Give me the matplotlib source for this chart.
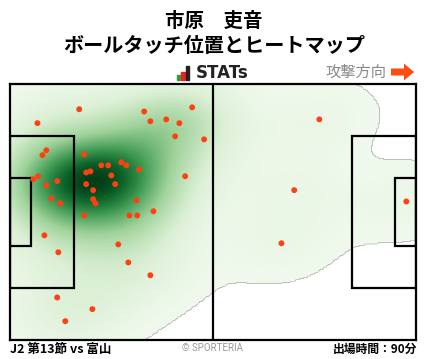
import numpy as np
import matplotlib
matplotlib.use("Agg")
import matplotlib.pyplot as plt
from matplotlib.colors import LinearSegmentedColormap
from matplotlib.patches import Rectangle, FancyArrow

plt.rcParams["font.family"] = ["Noto Sans CJK JP", "DejaVu Sans"]

player = "市原　吏音"
subtitle = "ボールタッチ位置とヒートマップ"
match_label = "J2 第13節 vs 富山"
minutes_label = "出場時間：90分"

# ball touch positions in metres (pitch 105 x 68, attacking to the right)
touch_x = [17.9, 7.1, 34.7, 47.1, 36.3, 40.4, 43.8, 42.7, 50.2, 9.4,
           8.4, 19.2, 28.8, 30.1, 23.6, 25.4, 33.4, 19.7, 20.8, 26.2,
           45.3, 6.0, 7.3, 12.2, 9.4, 19.7, 27.2, 21.5, 10.7, 13.0,
           21.5, 22.1, 32.7, 37.1, 19.2, 30.9, 32.9, 8.9, 12.5, 28.0,
           30.6, 36.3, 12.2, 21.3, 14.3, 80.0, 73.5, 70.2, 102.5]
touch_y = [61.3, 57.6, 60.7, 61.8, 58.1, 58.6, 57.6, 54.1, 53.3, 50.4,
           49.1, 49.3, 47.2, 46.4, 46.4, 46.4, 45.3, 44.5, 44.8, 43.7,
           43.5, 42.7, 43.5, 42.2, 41.1, 41.4, 41.4, 39.8, 37.6, 36.3,
           37.4, 36.3, 37.1, 34.2, 33.1, 33.1, 33.1, 27.8, 23.3, 25.4,
           20.6, 17.2, 11.3, 8.2, 5.0, 58.6, 39.8, 25.7, 36.8]

tx = np.array(touch_x)
ty = np.array(touch_y)

fig = plt.figure(figsize=(4.28, 3.59), dpi=100)

# header / footer layer in pixel coordinates
bg = fig.add_axes([0, 0, 1, 1])
bg.set_xlim(0, 428)
bg.set_ylim(359, 0)
bg.axis("off")

bg.text(214, 21, player, ha="center", va="center", fontsize=14, fontweight="bold")
bg.text(214, 46, subtitle, ha="center", va="center", fontsize=14.5, fontweight="bold")

# STATs logo
bg.add_patch(Rectangle((177, 75), 3.5, 5, color="#2e9e3a"))
bg.add_patch(Rectangle((181.5, 72), 3.5, 8, color="#e8231d"))
bg.add_patch(Rectangle((186, 66), 3.5, 14, color="#222222"))
bg.text(196, 73.5, "STATs", ha="left", va="center", fontsize=12,
        fontweight="bold", family="DejaVu Sans", color="#222222")

bg.text(386, 72, "攻撃方向", ha="right", va="center", fontsize=11, color="#888888")
bg.add_patch(FancyArrow(391, 72, 23, 0, width=7, head_width=17, head_length=10,
                        length_includes_head=True, color="#ff4d12", lw=0))

bg.text(10, 349, match_label, ha="left", va="center", fontsize=9, fontweight="bold")
bg.text(213, 348, "© SPORTERIA", ha="center", va="center", fontsize=7,
        color="#999999", family=["Roboto", "DejaVu Sans"])
bg.text(417, 349, minutes_label, ha="right", va="center", fontsize=8.5, fontweight="bold")

# pitch
ax = fig.add_axes([10 / 428, 19 / 359, 406 / 428, 256 / 359])
ax.set_xlim(0, 105)
ax.set_ylim(0, 68)
ax.set_xticks([])
ax.set_yticks([])

# heat map: gaussian kde with Scott's rule on the full covariance
pts = np.vstack([tx, ty])
factor = len(tx) ** (-1 / 6)
bw_cov = np.cov(pts) * factor ** 2
inv = np.linalg.inv(bw_cov)
gx, gy = np.meshgrid(np.linspace(0, 105, 300), np.linspace(0, 68, 200))
dens = np.zeros_like(gx)
for x, y in zip(tx, ty):
    dx, dy = gx - x, gy - y
    dens += np.exp(-0.5 * (inv[0, 0] * dx * dx + 2 * inv[0, 1] * dx * dy + inv[1, 1] * dy * dy))
dens /= dens.max()
dens = np.ma.masked_less(dens, 0.02)

cmap = LinearSegmentedColormap.from_list(
    "heat", [(0.0, "#f3faf0"), (0.2, "#dcf0d6"), (0.45, "#9fd29a"),
             (0.7, "#3f9a52"), (0.88, "#0e652a"), (1.0, "#023d17")])
ax.imshow(dens, extent=(0, 105, 0, 68), origin="lower", cmap=cmap,
          vmin=0.0, vmax=1.0, aspect="auto", interpolation="bilinear", zorder=1)

lc = "black"
lw = 1.6
ax.plot([52.5, 52.5], [0, 68], color=lc, lw=lw, zorder=2)
pw, gw = 40.3, 18.3
for x0, d in [(0, 16.5), (105 - 16.5, 16.5)]:
    ax.add_patch(Rectangle((x0, 34 - pw / 2), d, pw, fill=False, ec=lc, lw=lw, zorder=2))
for x0, d in [(0, 5.5), (105 - 5.5, 5.5)]:
    ax.add_patch(Rectangle((x0, 34 - gw / 2), d, gw, fill=False, ec=lc, lw=lw, zorder=2))
for s in ax.spines.values():
    s.set_linewidth(lw)
    s.set_zorder(3)

ax.scatter(tx, ty, s=18, color="#ff4013", edgecolors="none", zorder=4)

fig.savefig("out.png", dpi=100)
